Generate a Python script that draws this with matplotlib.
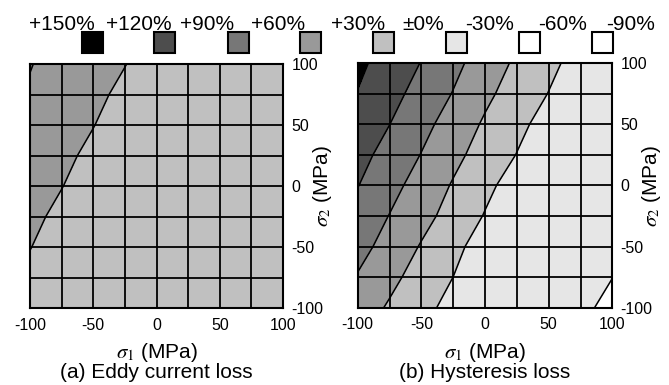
import matplotlib
matplotlib.use("Agg")
import matplotlib.pyplot as plt
from matplotlib.patches import Rectangle
import numpy as np

plt.rcParams['font.family'] = ['Liberation Sans', 'DejaVu Sans']
plt.rcParams['mathtext.fontset'] = 'stix'
plt.rcParams['axes.unicode_minus'] = False

# stress grid (MPa)
sigma1 = [-100, -75, -50, -25, 0, 25, 50, 75, 100]
sigma2 = [-100, -75, -50, -25, 0, 25, 50, 75, 100]

# change of loss (%) -- rows follow sigma2 (bottom -> top), columns follow sigma1
eddy = [
    [25.0, 21.0, 18.0, 16.0, 14.0, 12.5, 11.0, 9.5, 8.0],
    [27.5, 23.0, 19.5, 17.0, 15.0, 13.3, 11.8, 10.3, 8.8],
    [30.3, 25.0, 21.0, 18.0, 16.0, 14.0, 12.5, 11.0, 9.5],
    [32.5, 27.5, 23.0, 19.5, 17.0, 15.0, 13.3, 11.8, 10.3],
    [35.0, 30.3, 25.0, 21.0, 18.0, 16.0, 14.0, 12.5, 11.0],
    [38.0, 32.5, 27.5, 23.0, 19.5, 17.0, 15.0, 13.3, 11.8],
    [43.0, 35.0, 30.3, 25.0, 21.0, 18.0, 16.0, 14.0, 12.5],
    [55.0, 38.0, 32.5, 27.5, 23.0, 19.5, 17.0, 15.0, 13.3],
    [62.0, 43.0, 35.0, 30.3, 25.0, 21.0, 18.0, 16.0, 14.0],
]

hyst = [
    [44.8, 26.7, 8.7, -9.4, -14.0, -18.0, -22.0, -26.0, -35.1],
    [58.0, 37.5, 18.4, -0.1, -10.0, -15.0, -19.0, -24.0, -29.8],
    [70.2, 49.0, 27.9, 7.6, -12.8, -15.0, -18.0, -21.0, -25.0],
    [79.0, 59.2, 39.5, 19.2, -1.7, -9.0, -13.0, -17.0, -21.0],
    [90.9, 69.4, 48.3, 27.6, 7.3, -13.0, -16.0, -19.0, -22.0],
    [99.7, 79.5, 59.1, 37.7, 18.0, -0.75, -9.0, -15.0, -19.0],
    [111.1, 90.3, 68.9, 47.4, 26.25, 7.5, -11.25, -15.0, -18.0],
    [119.0, 99.8, 79.4, 58.8, 36.3, 17.1, -0.7, -9.0, -14.0],
    [126.2, 107.7, 89.1, 67.8, 46.1, 25.1, 7.0, -11.0, -15.0],
]

levels = [-90, -60, -30, 0, 30, 60, 90, 120, 150]
band_colors = ['#ffffff', '#ffffff', '#e6e6e6', '#c0c0c0',
               '#999999', '#777777', '#4d4d4d', '#000000']
legend_labels = ['+150%', '+120%', '+90%', '+60%', '+30%',
                 '\u00b10%', '-30%', '-60%', '-90%']
captions = ['(a) Eddy current loss', '(b) Hysteresis loss']

W, H = 669, 385
fig = plt.figure(figsize=(W / 100, H / 100), dpi=100)

def px(x0, y0, x1, y1):
    return [x0 / W, 1 - y1 / H, (x1 - x0) / W, (y1 - y0) / H]

axes_px = [(30, 64, 283, 308), (357.7, 63, 612.4, 307.7)]
X, Y = np.meshgrid(sigma1, sigma2)

for k, (data, box) in enumerate(zip([eddy, hyst], axes_px)):
    ax = fig.add_axes(px(*box))
    Z = np.array(data)
    ax.contourf(X, Y, Z, levels=levels, colors=band_colors)
    ax.contour(X, Y, Z, levels=levels, colors='k', linewidths=1.1,
               linestyles='solid')
    ax.set_xlim(-100, 100)
    ax.set_ylim(-100, 100)
    ax.set_xticks([-100, -50, 0, 50, 100])
    ax.set_yticks([-100, -50, 0, 50, 100])
    ax.set_xticks(sigma1, minor=True)
    ax.set_yticks(sigma2, minor=True)
    ax.set_axisbelow(False)
    ax.grid(which='both', color='k', linewidth=1.3)
    ax.yaxis.tick_right()
    ax.tick_params(which='both', length=0, labelsize=11.5)
    ax.tick_params(axis='x', pad=7)
    ax.tick_params(axis='y', pad=6)
    for s in ax.spines.values():
        s.set_linewidth(1.5)
    cx = (box[0] + box[2]) / 2
    fig.text(cx / W, 1 - 352 / H, r'$\sigma_1$ (MPa)', ha='center', va='center', fontsize=15)
    fig.text(cx / W, 1 - 373 / H, captions[k], ha='center', va='center', fontsize=15)
    fig.text((box[2] + 39) / W, 1 - 186 / H, r'$\sigma_2$ (MPa)', rotation=90,
             ha='center', va='center', fontsize=15)

# legend on top
label_x = [62, 139, 207, 278, 358, 423, 490, 563, 631]
square_x = [81.7, 154, 227.7, 300, 372.7, 445.7, 519, 591.7]
for lx, lab in zip(label_x, legend_labels):
    fig.text(lx / W, 1 - 24.5 / H, lab, ha='center', va='center', fontsize=15)
for sx, c in zip(square_x, band_colors[::-1]):
    fig.add_artist(Rectangle((sx / W, 1 - 53.3 / H), 21 / W, 21 / H,
                             transform=fig.transFigure, facecolor=c,
                             edgecolor='k', linewidth=1.5))

fig.savefig('out.png', dpi=100)
